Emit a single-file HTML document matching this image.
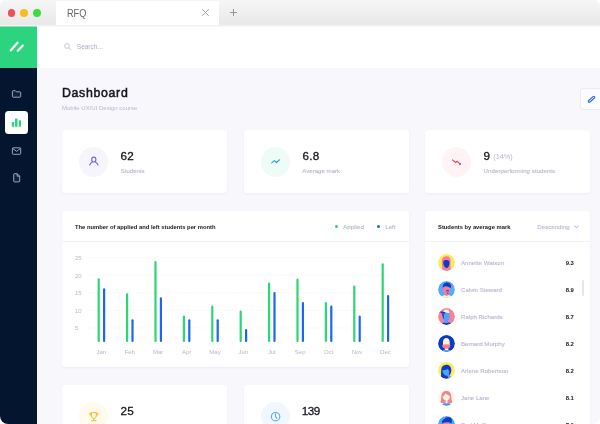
<!DOCTYPE html>
<html lang="en">
<head>
<meta charset="utf-8">
<title>RFQ</title>
<style>
*{box-sizing:border-box;margin:0;padding:0}
html,body{width:600px;height:424px;overflow:hidden;background:#fff}
body{font-family:"Liberation Sans",sans-serif;color:#15161c;position:relative}
.win{position:absolute;left:0;top:0;width:600px;height:424px;border-radius:6.500px 6.500px 8px 8px;overflow:hidden;background:#f7f7fc}
.abs{position:absolute}
.t{position:absolute;white-space:nowrap;line-height:1}
/* title bar */
.bar{position:absolute;left:0;top:0;width:600px;height:26px;background:linear-gradient(#f6f6f6,#e9e9e9 24px,#ececec 25px,#f3f3f3)}
.dot{position:absolute;top:9px;width:7.800px;height:7.800px;border-radius:50%}
.tab{position:absolute;left:56px;top:1px;width:163px;height:24px;background:#fff}
.strip{position:absolute;left:0;top:25px;width:600px;height:2px;background:linear-gradient(#f1f1f3 1px,rgba(241,241,243,.5) 1px);z-index:5}
/* sidebar */
.side{position:absolute;left:0;top:26px;width:37px;height:398px;background:#04152f}
.logo{position:absolute;left:0;top:0;width:37px;height:42px;background:#2dd47f}
.act{position:absolute;left:5.300px;top:85.200px;width:22.500px;height:22.500px;border-radius:3.500px;background:#fff}
/* header */
.head{position:absolute;left:37px;top:26px;width:563px;height:42px;background:#fff}
.card{position:absolute;background:#fff;border-radius:3.500px;box-shadow:0 1px 3px rgba(60,60,120,.05)}
.circ{position:absolute;width:29.600px;height:29.600px;border-radius:50%}
.num{font-weight:400;font-size:11.700px;color:#15161c;-webkit-text-stroke:.3px #15161c;letter-spacing:.2px}
.lbl{font-size:6px;color:#b6b9cd;-webkit-text-stroke:.12px #b6b9cd}
.gray{color:#b6b9cd}
.row{position:absolute;left:0;width:165px;height:27px}
.av{position:absolute;left:13px;top:0;width:17px;height:17px;border-radius:50%;overflow:hidden}
.nm{position:absolute;left:36px;top:6px;font-size:6.100px;color:#b6b9cd;-webkit-text-stroke:.12px #b6b9cd;white-space:nowrap;line-height:1}
.sc{position:absolute;right:16.300px;top:6.400px;font-size:5.900px;letter-spacing:-.1px;font-weight:700;color:#15161c;white-space:nowrap;line-height:1}
</style>
</head>
<body>
<div class="win">
  <!-- browser chrome -->
  <div class="bar">
    <div class="dot" style="left:7.500px;background:#ef4f5a"></div>
    <div class="dot" style="left:20.200px;background:#f8bd1c"></div>
    <div class="dot" style="left:33.200px;background:#3ddc3f"></div>
    <div class="tab">
      <div class="t" style="left:11px;top:7.800px;font-size:10.200px;color:#666;transform:scaleX(.9);transform-origin:0 0">RFQ</div>
      <svg class="abs" style="left:146px;top:7.800px" width="7" height="7" viewBox="0 0 7 7"><path d="M0.300 0.300L6.700 6.700M6.700 0.300L0.300 6.700" stroke="#9a9a9a" stroke-width="0.900" fill="none"/></svg>
    </div>
    <svg class="abs" style="left:229.5px;top:9px" width="7" height="7" viewBox="0 0 7 7"><path d="M3.500 0V7M0 3.500H7" stroke="#8c8c8c" stroke-width="0.900" fill="none"/></svg>
  </div>

  <div class="strip"></div>

  <!-- header -->
  <div class="head">
    <svg class="abs" style="left:27px;top:17px" width="8" height="8" viewBox="0 0 8 8"><circle cx="3" cy="3" r="2.4" stroke="#b9bdd0" stroke-width="0.8" fill="none"/><path d="M4.8 4.8L7 7" stroke="#b9bdd0" stroke-width="0.8" stroke-linecap="round"/></svg>
    <div class="t" style="left:39.800px;top:18px;font-size:6.500px;color:#a9adc4">Search...</div>
  </div>

  <!-- sidebar -->
  <div class="side">
    <div class="logo">
      <svg class="abs" style="left:0;top:0" width="37" height="42" viewBox="0 0 37 42"><path d="M10.700 24.400L17.500 16.700M17.800 24.800L22.800 19.500" stroke="#fff" stroke-width="2.200" stroke-linecap="round" fill="none"/></svg>
    </div>
    <svg class="abs" style="left:0;top:0" width="37" height="200" viewBox="0 0 37 200" fill="none" stroke="#aeb3c7" stroke-width=".9" stroke-linejoin="round">
      <path d="M12.400 65.500C12.400 65 12.700 64.700 13.200 64.700H15.300L16.300 65.800H19.900C20.400 65.800 20.700 66.100 20.700 66.600V70.400C20.700 70.900 20.400 71.200 19.900 71.200H13.200C12.700 71.200 12.400 70.900 12.400 70.400Z" fill="#0f2044"/>
      <rect x="12.400" y="121.800" width="8.300" height="6.500" rx=".8"/>
      <path d="M12.700 122.400L16.550 125.400L20.400 122.400"/>
      <path d="M13.700 148.500C13.700 148 14 147.700 14.500 147.700H17.200L19.700 150.200V155.100C19.700 155.600 19.400 155.900 18.900 155.900H14.500C14 155.900 13.700 155.600 13.700 155.100Z" fill="#0f2044"/>
      <path d="M17.200 147.700V150.200H19.700"/>
    </svg>
    <div class="act">
      <svg class="abs" style="left:0;top:0" width="23" height="23" viewBox="0 0 23 23"><rect x="6.800" y="11" width="2.300" height="4.700" rx=".5" fill="#2dd47f"/><rect x="10" y="7.500" width="2.500" height="8.200" rx=".5" fill="#2dd47f"/><rect x="13.700" y="9.300" width="2.300" height="6.400" rx=".5" fill="#2dd47f"/></svg>
    </div>
  </div>

  <!-- title -->
  <div class="t" style="left:62px;top:87.200px;font-size:12.300px;font-weight:400;color:#15161c;-webkit-text-stroke:.5px #15161c;letter-spacing:.7px">Dashboard</div>
  <div class="t" style="left:62px;top:105.300px;font-size:6px;color:#b6b9cd">Mobile UX/UI Design course</div>

  <!-- edit button -->
  <div class="abs" style="left:580px;top:88px;width:26px;height:21.500px;border:1px solid #ebecf3;border-radius:3px;background:#fcfcfe">
    <svg class="abs" style="left:-1px;top:-1px" width="20" height="21" viewBox="0 0 20 21"><path d="M9.300 13.200L13.700 9.400" stroke="#2f6df6" stroke-width="3.200" stroke-linecap="round" fill="none"/><path d="M9.300 13.200L13.700 9.400" stroke="#e9f0ff" stroke-width="1" stroke-linecap="round" fill="none"/></svg>
  </div>

  <!-- stat cards row 1 -->
  <div class="card" style="left:62px;top:130px;width:165px;height:63px">
    <div class="circ" style="left:16.700px;top:17px;background:#f6f5fe"></div>
    <svg class="abs" style="left:16.700px;top:17px" width="30" height="30" viewBox="0 0 30 30"><ellipse cx="14.800" cy="12.600" rx="2.100" ry="2.400" stroke="#8366ee" stroke-width="1.200" fill="none"/><path d="M10.700 18C11.300 16.300 12.400 15.400 13.700 14.800M19 18C18.400 16.300 17.300 15.400 16 14.800" stroke="#8366ee" stroke-width="1.200" fill="none" stroke-linecap="round"/></svg>
    <div class="t num" style="left:58.500px;top:20.300px">62</div>
    <div class="t lbl" style="left:58.800px;top:38.400px">Students</div>
  </div>
  <div class="card" style="left:244px;top:130px;width:165px;height:63px">
    <div class="circ" style="left:16.700px;top:17px;background:#effbf7"></div>
    <svg class="abs" style="left:16.700px;top:17px" width="30" height="30" viewBox="0 0 30 30"><path d="M10.700 15.900L13.400 13.600L15.500 15.500L18.500 12.800" stroke="#22b3c6" stroke-width="1.200" fill="none" stroke-linecap="round" stroke-linejoin="round"/></svg>
    <div class="t num" style="left:58.500px;top:20.300px">6.8</div>
    <div class="t lbl" style="left:58.300px;top:38.400px;font-size:6.100px">Average mark</div>
  </div>
  <div class="card" style="left:425px;top:130px;width:165px;height:63px">
    <div class="circ" style="left:16.700px;top:17px;background:#fff4f5"></div>
    <svg class="abs" style="left:16.700px;top:17px" width="30" height="30" viewBox="0 0 30 30"><path d="M10.500 12.800L13.600 15.500L15.300 14.300L18 16.900" stroke="#f03a5a" stroke-width="1.100" fill="none" stroke-linecap="round" stroke-linejoin="round"/><circle cx="18.100" cy="17" r="1.100" fill="#f03a5a"/></svg>
    <div class="t num" style="left:58.500px;top:20.300px">9</div>
    <div class="t gray" style="left:68.300px;top:23.100px;font-size:7.300px">(14%)</div>
    <div class="t lbl" style="left:58.600px;top:38.400px;font-size:6.200px">Underperforming students</div>
  </div>

  <!-- chart card -->
  <div class="card" style="left:62px;top:211px;width:347px;height:156px">
    <div class="t" style="left:13px;top:13.100px;font-size:6.100px;font-weight:700;color:#15161c;transform:scaleX(.954);transform-origin:0 0">The number of applied and left students per month</div>
    <div class="abs" style="left:272.5px;top:13.5px;width:3.4px;height:3.4px;border-radius:50%;background:#2bd673"></div>
    <div class="t lbl" style="left:281px;top:13.200px;font-size:6.200px;letter-spacing:.06px">Applied</div>
    <div class="abs" style="left:315px;top:13.5px;width:3.4px;height:3.4px;border-radius:50%;background:#1a62f5"></div>
    <div class="t lbl" style="left:323.200px;top:13.200px;font-size:6.200px">Left</div>
    <div class="abs" style="left:0;top:30px;width:347px;height:1px;background:#f2f3f8"></div>
    <svg class="abs" style="left:0;top:31px" width="347" height="125" viewBox="0 0 347 125" font-family="Liberation Sans, sans-serif">
      <g stroke="#eeeff5" stroke-width="0.600" stroke-dasharray="1.500 1.500">
        <path d="M26 15.600H331M26 33.200H331M26 50.800H331M26 68.400H331M26 86H331"/>
      </g>
      <g font-size="6" fill="#b6b9cd">
        <text x="13" y="18.1">25</text><text x="13" y="35.6">20</text><text x="13" y="53.1">15</text><text x="13" y="70.6">10</text><text x="13" y="88.1">5</text>
      </g>
      <g stroke="#2bd673" stroke-width="2.200" stroke-linecap="round"><path d="M36.7 37.3V99.0"/><path d="M65.1 52.3V99.0"/><path d="M93.5 20.0V99.0"/><path d="M121.9 74.7V99.0"/><path d="M150.3 64.7V99.0"/><path d="M178.7 69.7V99.0"/><path d="M207.1 41.7V99.0"/><path d="M235.5 37.7V99.0"/><path d="M263.9 61.0V99.0"/><path d="M292.3 44.7V99.0"/><path d="M320.7 22.3V99.0"/></g>
      <g stroke="#1c66f6" stroke-width="2.200" stroke-linecap="round"><path d="M42.1 47.3V99.0"/><path d="M70.5 78.3V99.0"/><path d="M98.9 56.3V99.0"/><path d="M127.3 78.3V99.0"/><path d="M155.7 78.3V99.0"/><path d="M184.1 88.0V99.0"/><path d="M212.5 51.0V99.0"/><path d="M240.9 61.0V99.0"/><path d="M269.3 64.7V99.0"/><path d="M297.7 74.7V99.0"/><path d="M326.1 54.0V99.0"/></g>
      <g font-size="6" fill="#b5b8cc" text-anchor="middle"><text x="39.4" y="111.8">Jan</text><text x="67.8" y="111.8">Feb</text><text x="96.2" y="111.8">Mar</text><text x="124.6" y="111.8">Apr</text><text x="153.0" y="111.8">May</text><text x="181.4" y="111.8">Jun</text><text x="209.8" y="111.8">Jul</text><text x="238.2" y="111.8">Sep</text><text x="266.6" y="111.8">Oct</text><text x="295.0" y="111.8">Nov</text><text x="323.4" y="111.8">Dec</text></g>
    </svg>
  </div>

  <!-- list card -->
  <div class="card" style="left:425px;top:211px;width:165px;height:230px">
    <div class="t" style="left:13px;top:13.100px;font-size:6.100px;font-weight:700;color:#15161c;transform:scaleX(.954);transform-origin:0 0">Students by average mark</div>
    <div class="t lbl" style="left:112.300px;top:13.200px;font-size:6.150px">Descending</div>
    <svg class="abs" style="left:149px;top:14px" width="5" height="4" viewBox="0 0 5 4"><path d="M0.600 0.900L2.500 2.900L4.400 0.900" stroke="#a9adc4" stroke-width="0.900" fill="none" stroke-linecap="round"/></svg>
    <div class="abs" style="left:0;top:30px;width:165px;height:1px;background:#f2f3f8"></div>
    <div class="abs" style="left:157px;top:69px;width:2px;height:16px;border-radius:1px;background:#e4e5ee"></div>
    <div class="row" style="top:43.3px"><svg class="av" width="16.800" height="16.800" viewBox="0 0 17 17"><clipPath id="ca1"><circle cx="8.500" cy="8.500" r="8.500"/></clipPath><g clip-path="url(#ca1)"><rect width="17" height="17" fill="#ffec5a"/><path d="M2.800 17C2.800 15.300 4.200 14.700 5.500 14.700H11.500C12.800 14.700 14.200 15.300 14.200 17Z" fill="#b5d2ff"/><path d="M4.400 17C4.500 13 3.300 9.500 3.900 6.300C4.300 3 6.800 2.200 8.600 2.200C10.800 2.200 12.600 3.400 12.600 7C12.600 10.500 12.400 13.500 12.800 17Z" fill="#f97b9a"/><path d="M5.300 8.800C5 6.300 6.800 5.900 8.600 5.900C10.600 5.900 11.700 6.600 11.500 9.200C11.300 12.300 9.900 13.900 8.500 13.900C7 13.900 5.600 12 5.300 8.800Z" fill="#0b3cc4"/></g></svg><div class="nm">Annette Watson</div><div class="sc">9.3</div></div>
    <div class="row" style="top:70.3px"><svg class="av" width="16.800" height="16.800" viewBox="0 0 17 17"><clipPath id="ca2"><circle cx="8.500" cy="8.500" r="8.500"/></clipPath><g clip-path="url(#ca2)"><rect width="17" height="17" fill="#55aaf9"/><path d="M3.800 17C3.800 15 5.500 14.200 7 14.100H10.200C11.700 14.200 13.400 15 13.400 17Z" fill="#fff5c6"/><path d="M6.800 12H10.200V14.100C10.200 15.200 6.800 15.200 6.800 14.100Z" fill="#f97b9a"/><path d="M5.100 6C5.100 4.500 12.300 4.500 12.300 6V10C12.300 14 5.100 14 5.100 10Z" fill="#f97b9a"/><path d="M4.900 7C4.300 3.500 6.500 1.300 9 1.400C11.500 1.500 13.300 3.300 13.100 5.500C13 6.500 12.600 7 12.200 7C11 5.800 9 5 7.200 5.200C6 5.400 5.400 6 4.900 7Z" fill="#0b3cc4"/><path d="M8.100 9.600C9 9 10.200 9 11.100 9.600V10.500C10.200 10.100 9 10.100 8.100 10.500Z" fill="#0b3cc4"/><rect x="9.100" y="11.600" width="1.300" height="1.200" rx=".4" fill="#0b3cc4"/></g></svg><div class="nm">Calvin Steward</div><div class="sc">8.9</div></div>
    <div class="row" style="top:97.3px"><svg class="av" width="16.800" height="16.800" viewBox="0 0 17 17"><clipPath id="ca3"><circle cx="8.500" cy="8.500" r="8.500"/></clipPath><g clip-path="url(#ca3)"><rect width="17" height="17" fill="#f7819d"/><path d="M3.800 17C3.800 15.200 5.500 14.600 7 14.600H10.200C11.700 14.600 13.400 15.200 13.400 17Z" fill="#0b3cc4"/><path d="M6.600 11H10V14.300C10 15.400 6.600 15.400 6.600 14.300Z" fill="#4ba3fa"/><path d="M5.200 4.800H11.500V10C11.500 11.500 10.500 12.200 9.800 12.200H6.900C5.900 12.200 5.200 11.200 5.200 10Z" fill="#4ba3fa"/><path d="M4.700 4.800C5.200 2.300 7.300 1.500 8.700 1.600C10.300 1.700 11.500 3 11.300 5C9.500 4.300 6.500 4.200 4.700 4.800Z" fill="#fff5c6"/><path d="M2.200 4C3.500 3.400 5.800 3.500 7.400 4.300L7.200 5.700C5.500 5.300 3.800 5.300 3.200 5.400Z" fill="#0b3cc4"/><path d="M4 5.300L5.800 5.500V11.500C4.800 10 4.300 7.500 4 5.300Z" fill="#0b3cc4"/></g></svg><div class="nm">Ralph Richards</div><div class="sc">8.7</div></div>
    <div class="row" style="top:124.3px"><svg class="av" width="16.800" height="16.800" viewBox="0 0 17 17"><clipPath id="ca4"><circle cx="8.500" cy="8.500" r="8.500"/></clipPath><g clip-path="url(#ca4)"><rect width="17" height="17" fill="#0b3cc4"/><path d="M4.300 17C4.300 15.400 5.800 14.600 7.200 14.600H10.200C11.600 14.600 13 15.400 13 17Z" fill="#4ba3fa"/><path d="M6.900 12H10.300V14.400C10.300 15.300 6.900 15.300 6.900 14.400Z" fill="#fff5c6"/><path d="M5 7.200C5 1.600 11.700 1.600 11.700 7.200V11H5Z" fill="#fff5c6"/><path d="M4.200 10C6.500 9.100 10.300 9.100 12.400 10C12.600 12 11 13.800 8.400 13.800C5.800 13.800 4 12 4.200 10Z" fill="#f97b9a"/></g></svg><div class="nm">Bernard Murphy</div><div class="sc">8.2</div></div>
    <div class="row" style="top:151.3px"><svg class="av" width="16.800" height="16.800" viewBox="0 0 17 17"><clipPath id="ca5"><circle cx="8.500" cy="8.500" r="8.500"/></clipPath><g clip-path="url(#ca5)"><rect width="17" height="17" fill="#ffec5a"/><path d="M3.200 17C3.100 12.500 2.700 8 3.800 5.300C4.900 2.700 8 2.200 10.300 3C12.700 3.900 13.600 6.500 13.300 9C13.200 10.300 12.800 11.500 12.200 12.300L11 17Z" fill="#0b3cc4"/><path d="M4.300 8.200C6.500 8.500 9 7.800 10 6.800C10.300 7.800 10.800 8.800 11.300 9.200C11.400 11.300 10.400 13.700 8.600 13.700C6.400 13.600 4.500 11 4.300 8.200Z" fill="#4ba3fa"/><path d="M9 13.200L10.800 11.800L13 14.900L10.500 16.200Z" fill="#4ba3fa"/><path d="M7.500 17C9.500 15.800 12 15 14.500 15V17Z" fill="#f97b9a"/></g></svg><div class="nm">Arlene Robertson</div><div class="sc">8.2</div></div>
    <div class="row" style="top:178.3px"><svg class="av" width="16.800" height="16.800" viewBox="0 0 17 17"><clipPath id="ca6"><circle cx="8.500" cy="8.500" r="8.500"/></clipPath><g clip-path="url(#ca6)"><rect width="17" height="17" fill="#fffadc"/><path d="M2.500 13.500C3.500 10 2.800 7 4 4.500C5.200 2.200 7.500 1.800 9 2C12 2.300 13 4.500 13.200 7C13.400 9.500 13.600 11.500 14.300 13.500C13 14.300 11 14.300 10 13.800H7C6 14.300 4 14.400 2.500 13.500Z" fill="#f97b9a"/><path d="M7.700 10.500H9.500V14.500H7.700Z" fill="#fdf0d0"/><path d="M4.600 7.600C5.900 6.800 7.100 5.300 7.500 3.900C8.600 5.300 10.400 6.300 11.900 6.700C12.200 9.200 10.800 11.600 8.400 11.600C6.100 11.600 4.700 9.700 4.600 7.600Z" fill="#fdf3d6"/><path d="M4 17C4 15.200 5.600 14.200 7.300 14.100C8 14.600 9.300 14.600 10 14.100C11.700 14.200 13.300 15.200 13.300 17Z" fill="#3d9cf8"/></g></svg><div class="nm">Jane Lane</div><div class="sc">8.1</div></div>
    <div class="row" style="top:205.3px"><svg class="av" width="16.800" height="16.800" viewBox="0 0 17 17"><clipPath id="ca7"><circle cx="8.500" cy="8.500" r="8.500"/></clipPath><g clip-path="url(#ca7)"><rect width="17" height="17" fill="#4da8fa"/><path d="M5.700 6C5.700 4.500 11.500 4.500 11.500 6V10C11.500 13.600 5.700 13.600 5.700 10Z" fill="#f97b9a"/><path d="M4 7.500C3.500 5 5 3.300 6.500 3C7.500 1 10.500 0.300 12.300 1.500C14 2.600 14.300 5 13.500 7.500C12 6.300 10.500 6 8.500 6.200C6.800 6.400 5.300 6.500 4 7.500Z" fill="#0b3cc4"/></g></svg><div class="nm">Earl McCoy</div><div class="sc">7.9</div></div>
  </div>

  <!-- bottom cards -->
  <div class="card" style="left:62px;top:385px;width:165px;height:63px">
    <div class="circ" style="left:16.700px;top:16.700px;background:#fffaec"></div>
    <svg class="abs" style="left:16.700px;top:16.700px" width="30" height="30" viewBox="0 0 30 30"><path d="M12.300 10.700H17.300V13.500C17.300 15.300 16.200 16.400 14.800 16.400C13.400 16.400 12.300 15.300 12.300 13.500Z" stroke="#fbb52b" stroke-width="1" fill="none" stroke-linejoin="round"/><path d="M12.300 11.300H10.600C10.600 12.600 11.200 13.600 12.400 13.800M17.300 11.300H19C19 12.600 18.400 13.600 17.200 13.800M14.800 16.400V18.500M12.600 18.700H17" stroke="#fbb52b" stroke-width="1" fill="none" stroke-linecap="round" stroke-linejoin="round"/></svg>
    <div class="t num" style="left:58.500px;top:20.300px">25</div>
    <div class="t lbl" style="left:58.800px;top:38.400px">Certificates</div>
  </div>
  <div class="card" style="left:244px;top:385px;width:165px;height:63px">
    <div class="circ" style="left:16.700px;top:16.700px;background:#f0f7ff"></div>
    <svg class="abs" style="left:16.700px;top:16.700px" width="30" height="30" viewBox="0 0 30 30"><circle cx="14.600" cy="14.700" r="4.200" stroke="#55acfb" stroke-width="1.100" fill="none"/><path d="M14.500 11.800V14.700L15.900 16.300" stroke="#55acfb" stroke-width="1.100" fill="none" stroke-linecap="round" stroke-linejoin="round"/></svg>
    <div class="t num" style="left:57.800px;top:20.300px;letter-spacing:-.5px">139</div>
    <div class="t lbl" style="left:58.300px;top:38.400px">Lessons</div>
  </div>
</div>
</body>
</html>
